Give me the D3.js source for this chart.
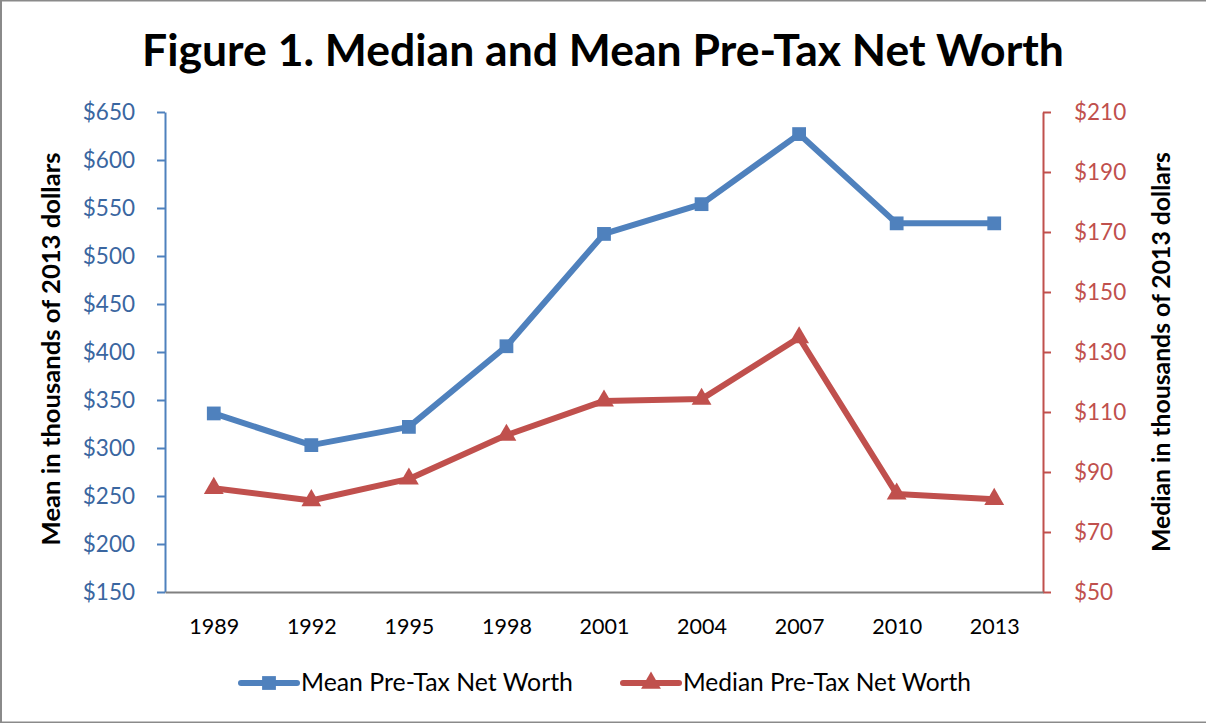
<!DOCTYPE html>
<html>
<head>
<meta charset="utf-8">
<script src="https://cdn.jsdelivr.net/npm/d3@7"></script>
<style>
  html, body { margin: 0; padding: 0; background: #fff; }
  svg text { font-family: Lato, "Open Sans", sans-serif; }
</style>
</head>
<body>
<svg id="chart" width="1206" height="723"></svg>
<script>
// Survey years and net worth (thousands of 2013 dollars)
const years = ["1989", "1992", "1995", "1998", "2001", "2004", "2007", "2010", "2013"];
const meanWorth = [336, 303, 322, 406, 523, 554, 627, 534, 534];
const medianWorth = [84.6, 80.5, 87.7, 102.3, 113.7, 114.3, 134.8, 82.7, 80.9];
const meanTicks = [150, 200, 250, 300, 350, 400, 450, 500, 550, 600, 650];
const medianTicks = [50, 70, 90, 110, 130, 150, 170, 190, 210];

const title = "Figure 1. Median and Mean Pre-Tax Net Worth";
const meanLabel = "Mean Pre-Tax Net Worth";
const medianLabel = "Median Pre-Tax Net Worth";
const leftTitle = "Mean in thousands of 2013 dollars";
const rightTitle = "Median in thousands of 2013 dollars";

const BLUE = "#4F81BD", RED = "#C0504D";
const BLUE_TEXT = "#3A66A0", RED_TEXT = "#C0504D";

const svg = d3.select("#chart");
const W = 1206, H = 723;
const plot = { left: 165, right: 1043, top: 112, bottom: 592 };

// Outer frame
svg.append("rect").attr("x", 1).attr("y", 0.5).attr("width", W + 10).attr("height", H - 1)
  .attr("fill", "#fff").attr("stroke", "#8a8a8a").attr("stroke-width", 2);

// Size a text element so that its rendered width equals the target
function fitWidth(sel, target) {
  const node = sel.node();
  const fs = parseFloat(sel.attr("font-size"));
  const w = node.getComputedTextLength();
  sel.attr("font-size", (fs * target / w).toFixed(2));
  return sel;
}

// Title
fitWidth(svg.append("text").attr("x", 603).attr("y", 66).attr("text-anchor", "middle")
  .attr("font-size", 40).attr("font-weight", 700).attr("fill", "#000").text(title), 922);

const x = d3.scalePoint().domain(years).range([plot.left, plot.right]).padding(0.5);
const yL = d3.scaleLinear().domain([150, 650]).range([plot.bottom, plot.top]);
const yR = d3.scaleLinear().domain([50, 210]).range([plot.bottom, plot.top]);

// Left axis
const gL = svg.append("g").attr("transform", `translate(${plot.left},0)`)
  .call(d3.axisLeft(yL).tickValues(meanTicks).tickFormat(d => "$" + d).tickSize(8).tickPadding(22).tickSizeOuter(0));
gL.select(".domain").attr("stroke", BLUE).attr("stroke-width", 2);
gL.selectAll(".tick line").attr("stroke", BLUE).attr("stroke-width", 2);
gL.selectAll(".tick text").attr("fill", BLUE_TEXT).attr("font-size", 22.5).attr("font-family", "Lato, sans-serif");

// Right axis
const gR = svg.append("g").attr("transform", `translate(${plot.right},0)`)
  .call(d3.axisRight(yR).tickValues(medianTicks).tickFormat(d => "$" + d).tickSize(8).tickPadding(23).tickSizeOuter(0));
gR.select(".domain").attr("stroke", RED).attr("stroke-width", 2);
gR.selectAll(".tick line").attr("stroke", RED).attr("stroke-width", 2);
gR.selectAll(".tick text").attr("fill", RED_TEXT).attr("font-size", 22.5).attr("font-family", "Lato, sans-serif");

// Category axis
const gX = svg.append("g").attr("transform", `translate(0,${plot.bottom})`)
  .call(d3.axisBottom(x).tickSize(0).tickPadding(27).tickSizeOuter(0));
gX.select(".domain").attr("stroke", "#808080").attr("stroke-width", 2);
gX.selectAll(".tick text").attr("fill", "#000").attr("font-size", 21.5).attr("font-family", "Lato, sans-serif");

// Axis titles
fitWidth(svg.append("text").attr("transform", "translate(60,349) rotate(-90)").attr("text-anchor", "middle")
  .attr("font-size", 22).attr("font-weight", 700).attr("fill", "#000").text(leftTitle), 393);
fitWidth(svg.append("text").attr("transform", "translate(1170,352) rotate(-90)").attr("text-anchor", "middle")
  .attr("font-size", 22).attr("font-weight", 700).attr("fill", "#000").text(rightTitle), 400);

// Series
const lineL = d3.line().x((d, i) => x(years[i])).y(d => yL(d));
const lineR = d3.line().x((d, i) => x(years[i])).y(d => yR(d));
const square = d3.symbol().type(d3.symbolSquare).size(190);
const triangle = d3.symbol().type(d3.symbolTriangle).size(170);

svg.append("path").datum(meanWorth).attr("d", lineL).attr("fill", "none")
  .attr("stroke", BLUE).attr("stroke-width", 6).attr("stroke-linejoin", "round");
svg.append("g").selectAll("path").data(meanWorth).join("path")
  .attr("d", square).attr("fill", BLUE)
  .attr("transform", (d, i) => `translate(${x(years[i])},${yL(d)})`);

svg.append("path").datum(medianWorth).attr("d", lineR).attr("fill", "none")
  .attr("stroke", RED).attr("stroke-width", 6).attr("stroke-linejoin", "round");
svg.append("g").selectAll("path").data(medianWorth).join("path")
  .attr("d", triangle).attr("fill", RED)
  .attr("transform", (d, i) => `translate(${x(years[i])},${yR(d)})`);

// Legend
const legend = [
  { label: meanLabel, color: BLUE, sym: square, x0: 241, tw: 272 },
  { label: medianLabel, color: RED, sym: triangle, x0: 623, tw: 288 }
];
const ly = 683;
legend.forEach(l => {
  svg.append("line").attr("x1", l.x0).attr("x2", l.x0 + 56).attr("y1", ly).attr("y2", ly)
    .attr("stroke", l.color).attr("stroke-width", 6).attr("stroke-linecap", "round");
  svg.append("path").attr("d", l.sym).attr("fill", l.color)
    .attr("transform", `translate(${l.x0 + 28},${ly})`);
  fitWidth(svg.append("text").attr("x", l.x0 + 60).attr("y", ly + 8).attr("font-size", 21)
    .attr("fill", "#000").text(l.label), l.tw);
});
</script>
</body>
</html>
